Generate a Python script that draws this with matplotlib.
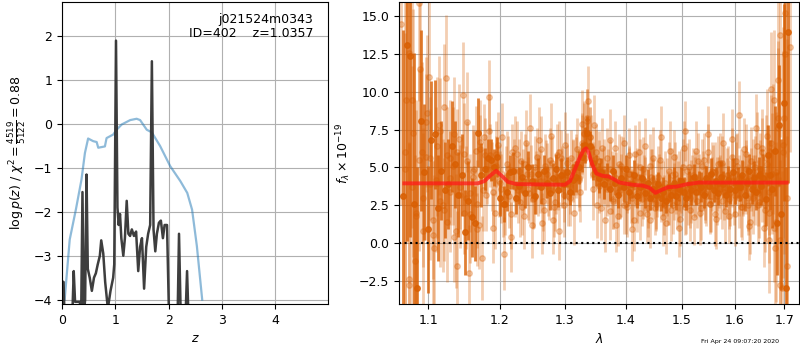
import numpy as np
import matplotlib
matplotlib.use("Agg")
import matplotlib.pyplot as plt
from matplotlib.ticker import FixedLocator, FormatStrFormatter, NullLocator

plt.rcParams['font.size'] = 9

# ---------------- left panel: redshift PDF ----------------
prior_z = [0.05, 0.145, 0.26, 0.365, 0.43, 0.49, 0.585, 0.65, 0.68, 0.805, 0.836, 0.96,
           1.025, 1.12, 1.28, 1.40, 1.465, 1.59, 1.685, 1.84, 2.03, 2.22, 2.35, 2.44,
           2.53, 2.63]
prior_logp = [-4.0, -2.63, -1.95, -1.27, -0.66, -0.33, -0.39, -0.41, -0.54, -0.51, -0.32,
              -0.24, -0.13, -0.01, 0.09, 0.12, 0.09, -0.13, -0.19, -0.5, -0.96, -1.3,
              -1.57, -1.95, -2.78, -4.0]

pz_z = [0.0, 0.03, 0.045, 0.195, 0.22, 0.245, 0.333, 0.36, 0.384, 0.41, 0.434, 0.46,
        0.484, 0.52, 0.56, 0.60, 0.635, 0.67, 0.71, 0.736, 0.774, 0.81, 0.86, 0.91,
        0.96, 0.98, 1.013, 1.04, 1.063, 1.088, 1.113, 1.15, 1.18, 1.214, 1.245, 1.277,
        1.31, 1.35, 1.39, 1.43, 1.465, 1.50, 1.54, 1.58, 1.616, 1.654, 1.686, 1.717,
        1.75, 1.78, 1.818, 1.855, 1.893, 1.925, 1.97, 2.006, 2.17, 2.195, 2.226, 2.32,
        2.346, 2.37]
pz_logp = [-3.58, -3.6, -4.3, -4.3, -3.35, -4.05, -4.05, -4.3, -1.55, -4.3, -4.0, -1.15,
           -3.3, -3.5, -3.8, -3.5, -3.4, -3.2, -3.0, -2.65, -2.95, -3.6, -4.2, -3.8,
           -3.5, -3.2, 1.9, -1.9, -2.3, -2.05, -2.6, -3.0, -2.6, -1.75, -2.5, -2.55,
           -2.4, -2.55, -2.45, -3.35, -2.8, -2.6, -3.75, -2.8, -2.5, -2.3, 1.43, -2.4,
           -2.9, -2.5, -2.25, -2.2, -2.6, -2.3, -2.3, -4.3, -4.3, -2.5, -4.3, -4.3,
           -3.35, -4.3]

z_ticks = [0, 1, 2, 3, 4]
logp_ticks = [-4, -3, -2, -1, 0, 1, 2]

# ---------------- right panel: spectrum ----------------
# optimally weighted spectrum (dark)
dark_wave_range = (1.0665, 1.708)
dark_flux = ([3.1, 13.1, 12.4, 2.6, -3.0, 8.1] +
             [4.7, 0.9, 6.8, 7.2, 2.3, 4.8, 3.5, 3.9, 6.4, 5.2, 3.2, 4.5, 0.7, 2.8, 1.7, 1.3, 7.3, 4.5] +
             [4.9, 5.6, 5.5, 5.0, 5.7, 3.0, 2.6, 3.4, 4.7, 4.8, 3.0, 3.8, 4.4, 3.3, 5.0,
              4.1, 3.1, 4.6, 3.7, 4.8, 4.0, 3.3, 4.3, 4.9, 3.5, 4.5, 3.9, 4.7, 3.4, 4.2] +
             [4.4, 5.0, 5.7, 6.5, 7.3, 6.4, 5.3, 4.8, 4.3, 4.7, 3.9] +
             [4.4, 3.6, 4.8, 4.0, 3.2, 4.3, 3.7, 4.9, 3.4, 3.9,
              4.5, 3.1, 3.7, 4.3, 3.3, 4.0, 3.0, 3.6, 3.2, 3.9,
              3.0, 3.4, 2.8, 3.7, 3.2, 4.0, 3.1, 3.6, 4.1, 3.4,
              3.0, 3.9, 3.5, 4.4, 3.4, 4.0, 3.7, 3.2, 4.3, 3.8,
              4.6, 3.5, 4.1, 3.3, 4.4, 3.9, 3.2, 4.2, 3.6, 4.7,
              3.5, 4.0, 3.7, 4.5, 3.2, 4.0, 4.8, 3.6, 4.3, 3.4,
              4.5, 3.8] +
             [4.3, 2.9, 5.8, 4.5, 3.6, 6.1, 1.3, 7.8, 1.9, 9.3, -3.0, 14.0])
dark_err = ([11.0, 13.0, 12.0, 10.0, 8.0, 6.0] +
            [4.5, 4.2, 3.9, 3.6, 3.5, 3.3, 3.2, 3.0, 3.0, 2.9, 2.8, 2.7, 2.8, 2.6, 2.6, 2.5, 2.3, 2.1] +
            [1.4, 1.3, 1.4, 1.2, 1.3, 1.2, 1.2, 1.3, 1.1, 1.2, 1.1, 1.2, 1.1, 1.0, 1.1,
             1.1, 1.2, 1.0, 1.1, 1.0, 1.0, 1.1, 1.0, 1.0, 1.1, 1.1, 1.0, 1.0, 0.9, 1.0] +
            [1.0, 1.1, 1.0, 1.2, 1.1, 1.0, 1.1, 1.0, 1.0, 0.9, 1.0] +
            [0.9, 0.8, 1.0, 0.8, 0.9, 0.8, 1.0, 0.9, 0.8, 0.9,
             1.0, 0.8, 0.9, 0.8, 1.0, 0.9, 0.8, 0.9, 1.0, 0.8,
             0.9, 1.0, 0.8, 0.9, 0.8, 1.0, 0.9, 0.8, 0.9, 1.0,
             0.8, 0.9, 1.0, 0.8, 0.9, 0.8, 1.0, 0.9, 0.8, 0.9,
             1.0, 0.8, 0.9, 0.8, 1.0, 0.9, 0.8, 0.9, 1.0, 0.9,
             0.9, 1.0, 0.9, 1.0, 1.1, 1.0, 1.1, 1.0, 1.1, 1.2,
             1.2, 1.3] +
            [1.6, 1.8, 2.0, 2.3, 2.6, 3.0, 3.4, 4.0, 5.0, 6.5, 8.0, 10.0])

# individual beam spectra (light)
light_wave_range = (1.0688, 1.7045)
light_flux = ([4.9, 12.6, 3.7, -1.2, 15.9, 6.0] +
              [5.7, 11.0, 0.5, 4.2, 7.8, 2.5, 10.9, 3.4, 5.1, 0.8, 6.9, 9.8, 3.0, -2.0, 4.4, 6.1, 1.2, -1.0] +
              [5.8, 9.7, 4.4, 2.0, 6.5, 3.6, -0.7, 5.2, 1.9, 4.8, 5.9, 2.7, 4.1, 6.6, 3.3,
               1.2, 5.0, 3.8, 6.2, 2.2, 4.6, 5.5, 1.5, 3.9, 6.0, 4.5, 2.5, 5.3, 3.0, 4.8] +
              [5.0, 4.2, 6.6, 7.2, 8.1, 7.0, 3.6, 6.0, 5.4, 2.3, 4.5] +
              [5.6, 2.1, 4.0, 6.3, 1.8, 3.5, 4.9, 2.6, 5.8, 3.2, 1.5, 4.4, 6.0, 2.9, 3.8,
               1.9, 5.1, 4.2, 2.3, 3.6, 5.5, 1.7, 4.0, 3.0, 6.1, 2.5, 4.6, 3.4, 1.6, 5.0,
               7.4, 3.1, 2.2, 4.5, 3.7, 5.4, 2.0, 4.1, 3.3, 6.0, 2.6, 4.8, 1.9, 3.9, 5.3,
               2.8, 4.3, 3.6, 1.8, 5.7, 3.2, 4.6, 8.5, 2.4, 4.0, 5.9, 3.0, 1.4, 4.7, 3.5,
               6.4, 2.7] +
              [3.8, 1.0, 5.6, 2.0, 10.2, 6.2, -0.3, 7.6, 13.8, -3.0, 8.3, 16.5])
light_err = ([9.0, 8.5, 8.0, 7.0, 6.5, 6.0] +
             [5.5, 5.2, 5.0, 4.8, 4.6, 4.4, 4.2, 4.0, 3.9, 3.8, 3.6, 3.5, 3.4, 3.2, 3.1, 3.0, 2.9, 2.8] +
             [2.5, 2.4, 2.3, 2.4, 2.2, 2.3, 2.4, 2.2, 2.3, 2.1, 2.2, 2.3, 2.1, 2.2, 2.0,
              2.2, 2.1, 2.0, 2.2, 2.1, 2.0, 2.1, 2.2, 2.0, 2.1, 1.9, 2.1, 2.0, 1.9, 2.1] +
             [2.0, 2.1, 2.0, 2.2, 2.1, 2.0, 2.1, 1.9, 2.0, 2.1, 1.9] +
             [2.0, 1.9, 2.1, 1.8, 2.0, 1.9, 2.1, 2.0, 1.8, 1.9, 2.0, 1.9, 2.1, 1.8, 2.0,
              1.9, 2.1, 2.0, 1.8, 1.9, 2.0, 1.9, 2.1, 1.8, 2.0, 1.9, 2.1, 2.0, 1.8, 1.9,
              2.0, 1.9, 2.1, 1.8, 2.0, 1.9, 2.1, 2.0, 1.8, 1.9, 2.0, 1.9, 2.1, 1.8, 2.0,
              1.9, 2.1, 2.0, 1.8, 1.9, 2.0, 2.1, 2.2, 2.0, 2.1, 2.0, 2.2, 2.1, 2.2, 2.3,
              2.3, 2.4] +
             [2.4, 2.6, 2.9, 3.3, 3.8, 4.3, 5.0, 5.8, 6.8, 7.8, 9.0, 10.0])

light2_wave_range = (1.0700, 1.7060)
light2_flux = ([9.5, -2.4, 7.3, 2.0, 11.5, 0.8] +
               [8.6, 3.9, -0.3, 6.4, 2.8, 9.0, 1.4, 5.6, 7.2, -1.5, 3.2, 5.9, 8.0, 1.9, 4.8, 2.6, 6.7, 3.5] +
               [3.2, 7.4, 1.0, 5.9, 4.1, 7.0, 2.6, 4.9, 0.4, 6.3, 3.5, 5.4, 1.8, 4.6, 7.6,
                2.9, 4.0, 6.8, 1.3, 5.1, 3.7, 7.1, 2.4, 5.8, 0.8, 4.3, 6.5, 3.1, 5.6, 2.0] +
               [6.2, 3.4, 7.9, 5.6, 9.4, 6.4, 7.8, 2.5, 4.9, 6.3, 1.5] +
               [4.3, 6.8, 2.9, 1.2, 5.2, 3.8, 6.6, 2.4, 4.6, 0.9, 5.9, 3.3, 2.0, 4.9, 6.4,
                3.0, 1.5, 5.6, 2.7, 4.4, 7.0, 3.6, 1.3, 4.8, 2.2, 5.7, 3.9, 1.0, 4.1, 6.3,
                2.6, 5.0, 3.4, 1.7, 6.1, 4.0, 2.3, 5.5, 3.1, 7.2, 2.8, 4.7, 1.6, 5.2, 3.7,
                6.6, 2.1, 4.5, 3.3, 6.9, 1.9, 5.1, 3.8, 2.4, 6.2, 4.2, 1.1, 5.4, 3.0, 7.6,
                2.5, 4.9] +
               [6.3, 2.2, 7.1, 0.2, 4.6, 9.5, 1.4, 10.8, -2.8, 6.0, 15.2, 3.0])
light2_err = ([9.5, 9.0, 8.2, 7.5, 7.0, 6.5] +
              [5.2, 5.0, 4.8, 4.6, 4.4, 4.2, 4.0, 3.9, 3.8, 3.6, 3.5, 3.4, 3.3, 3.2, 3.0, 2.9, 2.8, 2.7] +
              [2.4, 2.5, 2.3, 2.2, 2.4, 2.3, 2.1, 2.2, 2.3, 2.1, 2.2, 2.0, 2.2, 2.1, 2.3,
               2.0, 2.1, 2.2, 2.0, 2.1, 1.9, 2.2, 2.0, 2.1, 1.9, 2.0, 2.2, 2.0, 1.9, 2.1] +
              [2.1, 2.0, 2.2, 2.1, 2.3, 2.1, 2.0, 2.2, 1.9, 2.0, 2.1] +
              [1.9, 2.1, 2.0, 1.8, 2.0, 2.1, 1.9, 2.0, 1.8, 2.1, 1.9, 2.0, 1.8, 2.1, 1.9,
               2.0, 1.8, 2.1, 1.9, 2.0, 2.1, 1.8, 2.0, 1.9, 2.1, 1.8, 2.0, 1.9, 2.1, 1.8,
               2.0, 1.9, 2.1, 1.8, 2.0, 1.9, 2.1, 1.8, 2.0, 1.9, 2.1, 1.8, 2.0, 1.9, 2.1,
               2.0, 2.1, 1.9, 2.2, 2.0, 2.1, 2.2, 2.0, 2.2, 2.1, 2.3, 2.2, 2.3, 2.4, 2.3,
               2.5, 2.4] +
              [2.6, 2.8, 3.1, 3.5, 4.0, 4.6, 5.3, 6.2, 7.2, 8.3, 9.5, 10.5])

light3_wave_range = (1.0642, 1.711)
light3_flux = ([14.5, 6.0, -2.8, 9.5, 1.8, 5.5] +
               [3.0, 8.0, 5.6, 1.5, 4.0, 7.4, 2.2, 5.8, 4.3, 0.4, 6.0, 3.7, 2.0, 5.4, 3.3, 4.9, 0.9, 6.2] +
               [7.0, 4.9, 5.8, 3.4, 5.1, 4.0, 2.6, 4.4, 3.1, 6.0, 3.7, 4.8, 2.4, 5.2, 3.6,
                4.6, 3.0, 5.7, 4.1, 2.8, 4.9, 3.5, 5.3, 2.7, 4.2, 5.6, 3.2, 4.5, 3.8, 5.0] +
               [5.2, 4.3, 6.4, 7.3, 8.3, 7.0, 4.6, 5.6, 3.8, 4.4, 4.9] +
               [3.6, 4.9, 2.8, 4.3, 3.4, 5.1, 2.5, 3.8, 4.6, 3.0, 4.2, 2.7, 5.0, 3.3, 3.9,
                2.3, 4.4, 3.6, 2.6, 4.0, 3.2, 2.5, 3.7, 2.9, 4.5, 3.4, 2.7, 4.1, 3.5, 2.4,
                4.8, 3.0, 3.9, 4.4, 2.8, 3.6, 5.1, 3.3, 4.2, 2.6, 3.9, 4.7, 3.1, 4.0, 5.3,
                3.4, 4.5, 2.9, 4.1, 3.7, 5.4, 3.0, 4.3, 3.6, 4.9, 2.5, 4.2, 3.8, 5.0, 3.3,
                4.6, 6.0] +
               [2.5, 5.2, 3.4, 6.6, 1.0, 4.7, 8.3, 0.2, 6.5, 12.5, -1.5, 13.0])
light3_err = ([12.0, 11.0, 9.5, 8.5, 7.0, 6.0] +
              [4.6, 4.3, 4.1, 3.9, 3.7, 3.5, 3.4, 3.2, 3.1, 3.0, 2.9, 2.8, 2.7, 2.7, 2.6, 2.5, 2.4, 2.3] +
              [2.2, 2.3, 2.1, 2.2, 2.0, 2.1, 2.2, 2.0, 2.1, 1.9, 2.0, 2.1, 1.9, 2.0, 2.1,
               1.9, 2.0, 1.9, 2.1, 2.0, 1.9, 2.0, 1.8, 1.9, 2.0, 1.9, 1.8, 2.0, 1.9, 1.8] +
              [2.0, 1.9, 2.1, 2.0, 1.9, 2.0, 2.1, 1.9, 1.8, 1.9, 2.0] +
              [1.8, 2.0, 1.9, 1.7, 1.8, 2.0, 1.9, 1.8, 1.7, 1.9,
               1.8, 2.0, 1.9, 1.7, 1.8, 1.9, 1.8, 2.0, 1.7, 1.9,
               1.8, 2.0, 1.9, 1.7, 1.8, 1.9, 1.8, 2.0, 1.7, 1.9,
               1.8, 2.0, 1.9, 1.7, 1.8, 1.9, 1.8, 2.0, 1.7, 1.9,
               1.8, 2.0, 1.9, 1.7, 1.8, 1.9, 1.8, 2.0, 1.7, 1.9,
               1.8, 2.0, 1.9, 1.8, 1.9, 2.0, 2.1, 2.0, 2.1, 2.2,
               2.2, 2.3] +
              [2.4, 2.6, 2.9, 3.2, 3.6, 4.0, 4.6, 5.3, 6.2, 7.4, 8.6, 7.0])

model_wave = [1.068, 1.168, 1.178, 1.186, 1.195, 1.203, 1.212, 1.225, 1.26, 1.300, 1.308,
              1.316, 1.324, 1.330, 1.334, 1.338, 1.344, 1.351, 1.361, 1.372, 1.39, 1.412,
              1.43, 1.442, 1.452, 1.462, 1.475, 1.49, 1.507, 1.53, 1.60, 1.705]
model_flux = [3.95, 3.95, 4.1, 4.45, 4.78, 4.45, 4.05, 3.9, 3.88, 3.86, 4.1, 4.9, 5.7,
              6.15, 6.27, 6.0, 5.2, 4.6, 4.45, 4.4, 4.0, 3.86, 3.8, 3.65, 3.32, 3.5, 3.7,
              3.73, 3.88, 4.0, 4.0, 4.0]

wave_ticks = [1.1, 1.2, 1.3, 1.4, 1.5, 1.6, 1.7]

title_text = "j021524m0343\nID=402    z=1.0357"
stamp_text = "Fri Apr 24 09:07:20 2020"

# ---------------- figure ----------------
fig = plt.figure(figsize=(8, 3.5), dpi=100)
ax1 = fig.add_axes([0.0775, 0.1314, 0.3325, 0.8629])
ax2 = fig.add_axes([0.49875, 0.1314, 0.50, 0.8629])

ax1.plot(prior_z, prior_logp, color='tab:blue', alpha=0.5, lw=1.6)
ax1.plot(pz_z, pz_logp, color='0.2', alpha=0.95, lw=1.8)
ax1.set_xlim(0, 4.99)
ax1.set_ylim(-4.1, 2.78)
ax1.set_xticks(z_ticks)
ax1.set_yticks(logp_ticks)
ax1.grid(True)
ax1.set_xlabel(r'$z$')
ax1.set_ylabel(r'$\log p(z)$' + ' / ' + r'$\chi^2=\frac{4519}{5122}=0.88$')
ax1.text(0.945, 0.965, title_text, ha='right', va='top', transform=ax1.transAxes,
         fontsize=9, linespacing=1.1)

col = '#d95f02'
series = [(light_wave_range, light_flux, light_err, 0.3),
          (light2_wave_range, light2_flux, light2_err, 0.3),
          (light3_wave_range, light3_flux, light3_err, 0.3),
          (dark_wave_range, dark_flux, dark_err, 0.8)]
for k, (wr, fl, er, al) in enumerate(series):
    w = np.linspace(wr[0], wr[1], len(fl))
    ax2.errorbar(w, fl, yerr=er, fmt='o', color=col, alpha=al,
                 ms=4, elinewidth=2, capsize=0, zorder=2 + k * 0.1)
ax2.plot(model_wave, model_flux, color='#ff1a1a', alpha=0.75, lw=2.8, zorder=5)
ax2.axhline(0, color='k', ls=':', lw=1.5, zorder=4)

ax2.set_xscale('log')
ax2.set_xlim(1.061, 1.731)
ax2.set_ylim(-4.04, 15.96)
ax2.xaxis.set_major_locator(FixedLocator(wave_ticks))
ax2.xaxis.set_major_formatter(FormatStrFormatter('%.1f'))
ax2.xaxis.set_minor_locator(NullLocator())
ax2.grid(True)
ax2.set_xlabel(r'$\lambda$')
ax2.set_ylabel(r'$f_\lambda\times10^{-19}$')

fig.text(0.974, 0.018, stamp_text, ha='right', va='bottom', fontsize=4.5)

fig.savefig('out.png', dpi=100)
